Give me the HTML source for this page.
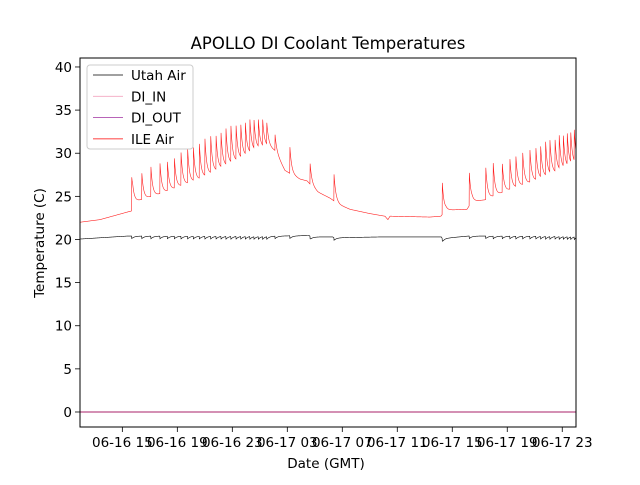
<!DOCTYPE html>
<html><head><meta charset="utf-8"><style>
body{margin:0;background:#fff;}
svg text{font-family:"DejaVu Sans","Liberation Sans",sans-serif;}
</style></head><body>
<svg id="chart" width="640" height="480" viewBox="0 0 640 480">
<rect width="640" height="480" fill="#fff"/>
<text x="328" y="49" font-size="16.5" text-anchor="middle">APOLLO DI Coolant Temperatures</text>
<g id="plot"></g>
<text x="326" y="468" font-size="13.5" text-anchor="middle">Date (GMT)</text>
<text transform="translate(44,243) rotate(-90)" font-size="13.5" text-anchor="middle">Temperature (C)</text>
</svg>
<script>
// hours since 06-16 00:00 GMT
const xTickHours = [15,19,23,27,31,35,39,43,47];
const xTickLabels = ["06-16 15","06-16 19","06-16 23","06-17 03","06-17 07","06-17 11","06-17 15","06-17 19","06-17 23"];
const yTicks = [0,5,10,15,20,25,30,35,40];
const ileBaseHours = [11.92,13.37,15.41,15.66,15.75,17.74,20.65,23.56,24.87,25.59,26.10,26.83,27.92,28.43,29.23,30.10,30.83,31.56,33.01,34.10,34.32,34.47,37.37,38.17,38.54,40.07,40.43,41.37,43.19,45.37,47.99];
const ileBaseTemps = [22.0,22.3,23.2,23.3,24.3,25.3,27.0,29.3,30.5,30.8,30.3,28.0,27.0,26.8,25.5,24.8,24.0,23.5,23.0,22.7,22.3,22.7,22.6,22.7,23.4,23.5,24.4,24.6,25.8,27.0,28.7];
const spikeHours = [15.68,16.41,17.08,17.74,18.27,18.78,19.27,19.75,20.16,20.60,21.01,21.43,21.81,22.17,22.54,22.90,23.27,23.61,23.94,24.28,24.57,24.89,25.21,25.50,26.10,27.19,28.65,30.39,38.27,40.23,41.43,41.98,42.63,43.19,43.63,44.12,44.65,45.08,45.42,45.79,46.10,46.47,46.78,47.07,47.36,47.61,47.87];
const spikePeaks = [27.3,27.9,28.4,28.8,29.2,29.6,30.0,30.4,30.8,31.1,31.5,31.8,32.1,32.4,32.6,32.9,33.1,33.3,33.5,33.6,33.7,33.7,33.6,33.4,32.3,30.7,29.0,27.8,26.7,28.0,28.6,28.8,29.0,29.4,29.5,30.1,30.3,30.6,30.8,31.1,31.3,31.6,31.7,31.9,32.0,32.1,32.3];
const utahBaseHours = [11.92,15.4,26.0,28.6,28.7,30.3,30.4,34.0,38.2,38.3,38.5,40.2,48.0];
const utahBaseTemps = [20.05,20.4,20.4,20.45,20.3,20.3,20.2,20.3,20.3,20.05,20.15,20.4,20.4];
const utahDip = 0.3;
const diInTemps = [0,0];
const diOutTemps = [0,0];

const L=80,R=576,T=58,B=427, H0=11.92,H1=48.0, Y0=-1.74,Y1=41.04;
const xs=h=>L+(h-H0)/(H1-H0)*(R-L);
const ys=v=>B-(v-Y0)/(Y1-Y0)*(B-T);
const NS="http://www.w3.org/2000/svg";
const plot=document.getElementById('plot');
function mk(tag,attrs){const e=document.createElementNS(NS,tag);for(const k in attrs)e.setAttribute(k,attrs[k]);plot.appendChild(e);return e;}
function interp(hs,vs,h){if(h<=hs[0])return vs[0];for(let i=1;i<hs.length;i++){if(h<=hs[i]){const f=(h-hs[i-1])/(hs[i]-hs[i-1]);return vs[i-1]+f*(vs[i]-vs[i-1]);}}return vs[vs.length-1];}

let e=mk('line',{x1:xs(H0),x2:xs(H1),y1:ys(diInTemps[0]),y2:ys(diInTemps[1]),stroke:'#f4a6c0','stroke-width':0.8});


e=mk('line',{x1:xs(H0),x2:xs(H1),y1:ys(diOutTemps[0]),y2:ys(diOutTemps[1]),stroke:'#a8206a','stroke-width':0.9});



function series(bh,bv,amps,tau){let d='';for(let h=H0;h<=H1+0.001;h+=0.015){let v=interp(bh,bv,h);for(let i=0;i<spikeHours.length;i++){const t=spikeHours[i];if(h>=t){const a=amps(i,t);v+=a*Math.exp(-(h-t)/tau);}}d+=(d?'L':'M')+xs(h).toFixed(2)+','+ys(v).toFixed(2);}return d;}
e=mk('path',{d:series(utahBaseHours,utahBaseTemps,()=>-utahDip,0.2),fill:'none',stroke:'#000','stroke-width':0.6});


e=mk('path',{d:series(ileBaseHours,ileBaseTemps,(i,t)=>spikePeaks[i]-interp(ileBaseHours,ileBaseTemps,t),0.13),fill:'none',stroke:'#ff2020','stroke-width':0.6});



e=mk('rect',{x:L,y:T,width:R-L,height:B-T,fill:'none',stroke:'#000','stroke-width':1});


yTicks.forEach(v=>{
  const t=mk('line',{x1:L-5,x2:L,y1:ys(v),y2:ys(v),stroke:'#000','stroke-width':0.8});
  
  
  const tx=mk('text',{x:L-8,y:ys(v)+5,'font-size':13.5,'text-anchor':'end'});tx.textContent=v;
  
  
});
xTickHours.forEach((h,i)=>{
  const t=mk('line',{x1:xs(h),x2:xs(h),y1:B,y2:B+5,stroke:'#000','stroke-width':0.8});
  
  
  const tx=mk('text',{x:xs(h),y:B+20,'font-size':13.5,'text-anchor':'middle'});tx.textContent=xTickLabels[i];
  
  
});

const lg=mk('rect',{x:87,y:65,width:106,height:84,rx:3,fill:'#fff','fill-opacity':0.8,stroke:'#ccc','stroke-width':1});


const legNames=['Utah Air','DI_IN','DI_OUT','ILE Air'];
const legColors=['#000','#f4a6c0','#a030a0','#ff0000'];
legNames.forEach((n,i)=>{
  const y=75+i*21.3;
  const l=mk('line',{x1:93,x2:123,y1:y,y2:y,stroke:legColors[i],'stroke-width':0.8});
  
  
  const tx=mk('text',{x:131,y:y+5,'font-size':13.5});tx.textContent=n;
  
  
});
</script>
</body></html>
